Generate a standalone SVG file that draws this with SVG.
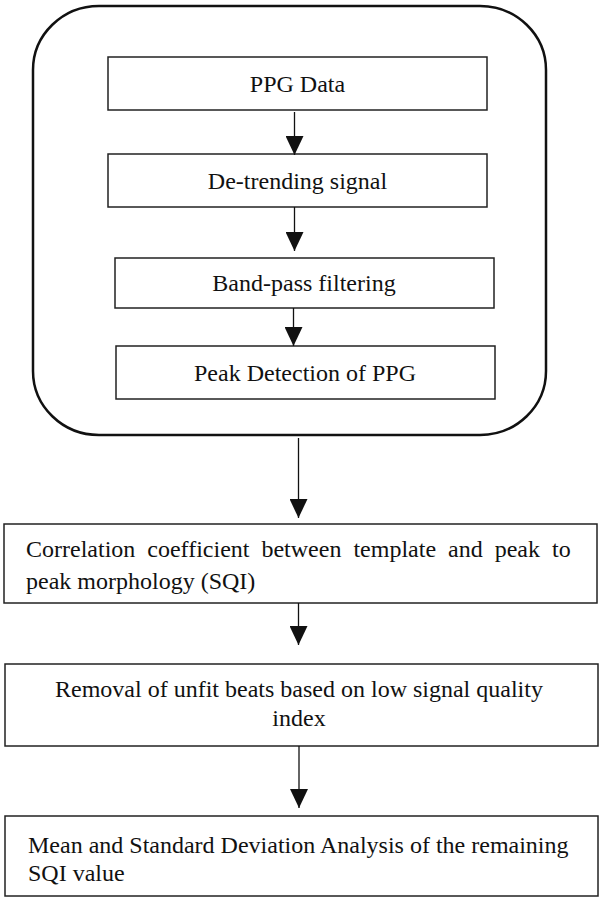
<svg xmlns="http://www.w3.org/2000/svg" width="600" height="901" viewBox="0 0 600 901">
<style>
.box{fill:#fff;stroke:#222;stroke-width:1.5}
.outer{fill:none;stroke:#111;stroke-width:2.5}
.t{font-family:"Liberation Serif","Times New Roman",serif;font-size:24px;fill:#111}
.c{text-anchor:middle}
.ln{stroke:#111;stroke-width:1.3;fill:none;marker-end:url(#ah)}
</style>
<defs>
<marker id="ah" markerUnits="userSpaceOnUse" markerWidth="19" markerHeight="18" refX="19" refY="9" orient="auto" viewBox="0 0 19 18">
<path d="M0,0 L19,9 L0,18 z" fill="#111"/>
</marker>
</defs>
<rect id="container" class="outer" x="33" y="6" width="513" height="429" rx="66" ry="64"/>
<g id="n1"><rect class="box" x="108" y="57" width="379" height="53"/><text class="t c" x="297.5" y="92">PPG Data</text></g>
<g id="n2"><rect class="box" x="108" y="154" width="379" height="53"/><text class="t c" x="297.5" y="189">De-trending signal</text></g>
<g id="n3"><rect class="box" x="115" y="258" width="379" height="50"/><text class="t c" x="304" y="291">Band-pass filtering</text></g>
<g id="n4"><rect class="box" x="116" y="346" width="379" height="53"/><text class="t c" x="305" y="381">Peak Detection of PPG</text></g>
<g id="n5"><rect class="box" x="4" y="524" width="593" height="79"/>
<text class="t" x="26" y="557" word-spacing="6">Correlation coefficient between template and peak to</text>
<text class="t" x="26" y="589">peak morphology (SQI)</text></g>
<g id="n6"><rect class="box" x="5" y="664" width="593" height="82"/>
<text class="t c" x="299" y="697">Removal of unfit beats based on low signal quality</text>
<text class="t c" x="299" y="726">index</text></g>
<g id="n7"><rect class="box" x="5" y="816" width="593" height="80"/>
<text class="t" x="28" y="853">Mean and Standard Deviation Analysis of the remaining</text>
<text class="t" x="28" y="881">SQI value</text></g>
<g id="connectors">
<line class="ln" x1="294.5" y1="112" x2="294.5" y2="155"/>
<line class="ln" x1="294.5" y1="207" x2="294.5" y2="251"/>
<line class="ln" x1="293.5" y1="308" x2="293.5" y2="346"/>
<line class="ln" x1="298.5" y1="438" x2="298.5" y2="518"/>
<line class="ln" x1="298.5" y1="603" x2="298.5" y2="645"/>
<line class="ln" x1="299" y1="746" x2="299" y2="808"/>
</g>
</svg>
